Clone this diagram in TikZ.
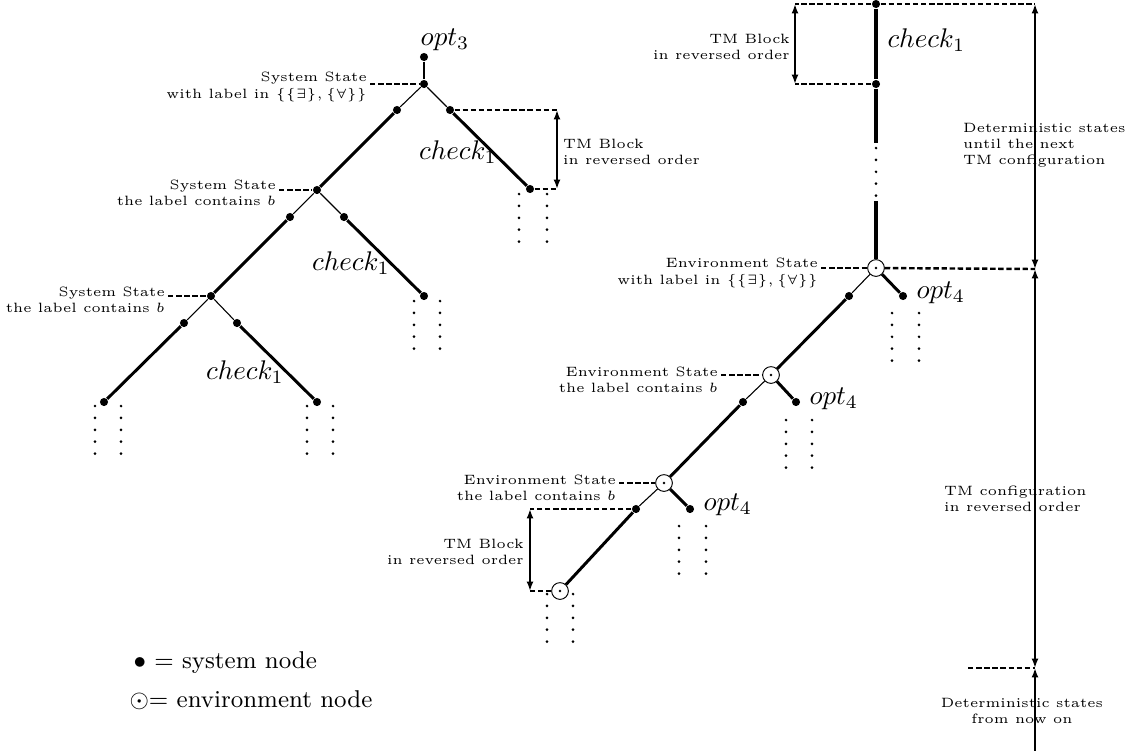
\documentclass[tikz,border=0pt]{standalone}
\usepackage{amssymb}
\usepackage{tikz}
\usetikzlibrary{arrows.meta}

\begin{document}
\begin{tikzpicture}[x=0.3704pt, y=-0.3704pt,
    sysnode/.style={circle, fill=black, inner sep=0pt, minimum size=3pt},
    envnode/.style={circle, draw, line width=0.35pt, fill=white, inner sep=0pt, minimum size=6.2pt,
      path picture={\fill[black] (path picture bounding box.center) circle (0.5pt);}},
    stub/.style={line width=0.4pt},
    branch/.style={line width=1.1pt},
    trunk/.style={line width=1.5pt},
    guide/.style={line width=0.9pt, dash pattern=on 2pt off 1pt},
    blockarrow/.style={{Latex[length=3.5pt,width=2.6pt]}-{Latex[length=3.5pt,width=2.6pt]}, line width=1pt},
    note/.style={font=\tiny, inner sep=1pt},
    more/.style={line width=1.1pt, dash pattern=on 0pt off 4.4pt, line cap=round}]
  \useasboundingbox (0,0) rectangle (1128,751);
  % linker Baum: Systemknoten
  \node[sysnode] (top3) at (424,57) {};
  \node (opt3) at (445,40) {$opt_3$};
  \node[sysnode] (s0) at (424,84) {};
  \node[sysnode] (s0l) at (397,110) {};
  \node[sysnode] (s0r) at (450,110) {};
  \node[sysnode] (c0) at (530,189) {};
  \node[sysnode] (s1) at (317,190) {};
  \node[sysnode] (s1l) at (290,217) {};
  \node[sysnode] (s1r) at (344,217) {};
  \node[sysnode] (c1) at (424,296) {};
  \node[sysnode] (s2) at (211,296) {};
  \node[sysnode] (s2l) at (184,323) {};
  \node[sysnode] (s2r) at (237,323) {};
  \node[sysnode] (c2) at (317,402) {};
  \node[sysnode] (s3) at (104,402) {};
  \draw[branch] (top3) -- (s0);
  \draw[stub] (s0) -- (s0l);
  \draw[stub] (s0) -- (s0r);
  \draw[branch] (s0l) -- (s1);
  \draw[branch] (s0r) -- (c0);
  \draw[stub] (s1) -- (s1l);
  \draw[stub] (s1) -- (s1r);
  \draw[branch] (s1l) -- (s2);
  \draw[branch] (s1r) -- (c1);
  \draw[stub] (s2) -- (s2l);
  \draw[stub] (s2) -- (s2r);
  \draw[branch] (s2l) -- (s3);
  \draw[branch] (s2r) -- (c2);
  \node (chk0) at (458,152) {$check_1$};
  \node (chk1) at (351,263) {$check_1$};
  \node (chk2) at (245,372) {$check_1$};
  % Beschriftungen der Zustaende
  \node[note, anchor=east, align=right] (n0) at (370,87)
    {System State\\with label in $\{\{\exists\},\{\forall\}\}$};
  \node[note, anchor=east, align=right] (n1) at (279,193)
    {System State\\the label contains $b$};
  \node[note, anchor=east, align=right] (n2) at (168,300)
    {System State\\the label contains $b$};
  \draw[guide] (n0.east |- s0) -- (s0);
  \draw[guide] (n1.east |- s1) -- (s1);
  \draw[guide] (n2.east |- s2) -- (s2);
  % TM-Block links
  \coordinate (b0t) at (557,110);
  \coordinate (b0b) at (557,189);
  \draw[guide] (s0r) -- (b0t);
  \draw[guide] (c0) -- (b0b);
  \draw[blockarrow] (b0t) -- (b0b);
  \node[note, anchor=west, align=left] (tm0) at (560,152) {TM Block\\in reversed order};

  % rechter Baum: Stamm
  \node[sysnode] (t0) at (876,4) {};
  \node[sysnode] (t1) at (876,84) {};
  \coordinate (t2) at (876,143);
  \coordinate (t3) at (876,201);
  \node[envnode] (e0) at (876,268) {};
  \draw[trunk] (t0) -- (t1) -- (t2);
  \draw[more] (876,148) -- (876,196);
  \draw[trunk] (t3) -- (e0);
  \node[anchor=west] (chk3) at (878,40) {$check_1$};
  \coordinate (b1t) at (795,4);
  \coordinate (b1b) at (795,84);
  \draw[guide] (t0) -- (b1t);
  \draw[guide] (t1) -- (b1b);
  \draw[blockarrow] (b1t) -- (b1b);
  \node[note, anchor=east, align=right] (tm1) at (793,47) {TM Block\\in reversed order};
  % Umgebungsknoten
  \node[sysnode] (e0l) at (849,296) {};
  \node[sysnode] (o0) at (903,296) {};
  \node[envnode] (e1) at (771,375) {};
  \node[sysnode] (e1l) at (743,402) {};
  \node[sysnode] (o1) at (796,402) {};
  \node[envnode] (e2) at (664,483) {};
  \node[sysnode] (e2l) at (636,509) {};
  \node[sysnode] (o2) at (690,509) {};
  \node[envnode] (e3) at (560,591) {};
  \draw[stub] (e0) -- (e0l);
  \draw[branch] (e0) -- (o0);
  \draw[branch] (e0l) -- (e1);
  \draw[stub] (e1) -- (e1l);
  \draw[branch] (e1) -- (o1);
  \draw[branch] (e1l) -- (e2);
  \draw[stub] (e2) -- (e2l);
  \draw[branch] (e2) -- (o2);
  \draw[branch] (e2l) -- (e3);
  \node[anchor=west] (opt0) at (907,293) {$opt_4$};
  \node[anchor=west] (opt1) at (800,399) {$opt_4$};
  \node[anchor=west] (opt2) at (694,505) {$opt_4$};
  \node[note, anchor=east, align=right] (m0) at (821,273)
    {Environment State\\with label in $\{\{\exists\},\{\forall\}\}$};
  \node[note, anchor=east, align=right] (m1) at (721,380)
    {Environment State\\the label contains $b$};
  \node[note, anchor=east, align=right] (m2) at (619,488)
    {Environment State\\the label contains $b$};
  \draw[guide] (m0.east |- e0) -- (e0);
  \draw[guide] (m1.east |- e1) -- (e1);
  \draw[guide] (m2.east |- e2) -- (e2);
  % TM-Block unten
  \coordinate (b2t) at (530,509);
  \coordinate (b2b) at (530,591);
  \draw[guide] (e2l) -- (b2t);
  \draw[guide] (e3) -- (b2b);
  \draw[blockarrow] (b2t) -- (b2b);
  \node[note, anchor=east, align=right] (tm2) at (527,552) {TM Block\\in reversed order};
  % Fortsetzungen
  \foreach \x/\y in {519/194, 547/194, 414/301, 440/301, 95/406, 121/406, 307/406, 333/406,
                     892/313, 919/313, 786/420, 812/420, 679/526, 706/526, 547/594, 573/594}
    \draw[more] (\x,\y) -- ++(0,48);

  % rechte Skala
  \coordinate (r0) at (1035,4);
  \coordinate (r1) at (1035,269);
  \coordinate (r2) at (1035,668);
  \coordinate (r3) at (1035,751);
  \coordinate (d0) at (968,668);
  \draw[guide] (t0) -- (r0);
  \draw[guide] (e0) -- (r1);
  \draw[guide] (d0) -- (r2);
  \draw[blockarrow] (r0) -- (r1);
  \draw[blockarrow] (r1) -- (r2);
  \draw[{Latex[length=3.5pt,width=2.6pt]}-, line width=1pt] (r2) -- (r3);
  \node[note, anchor=west, align=left] (det0) at (960,145)
    {Deterministic states\\until the next\\TM configuration};
  \node[note, anchor=west, align=left] (conf) at (941,499)
    {TM configuration\\in reversed order};
  \node[note, align=center] (det1) at (1022,711)
    {Deterministic states\\from now on};

  % Legende
  \node[anchor=west, font=\small] (leg0) at (124,663) {$\bullet$ = system node};
  \node[anchor=west, font=\small] (leg1) at (120,700) {$\odot$= environment node};
\end{tikzpicture}
\end{document}
